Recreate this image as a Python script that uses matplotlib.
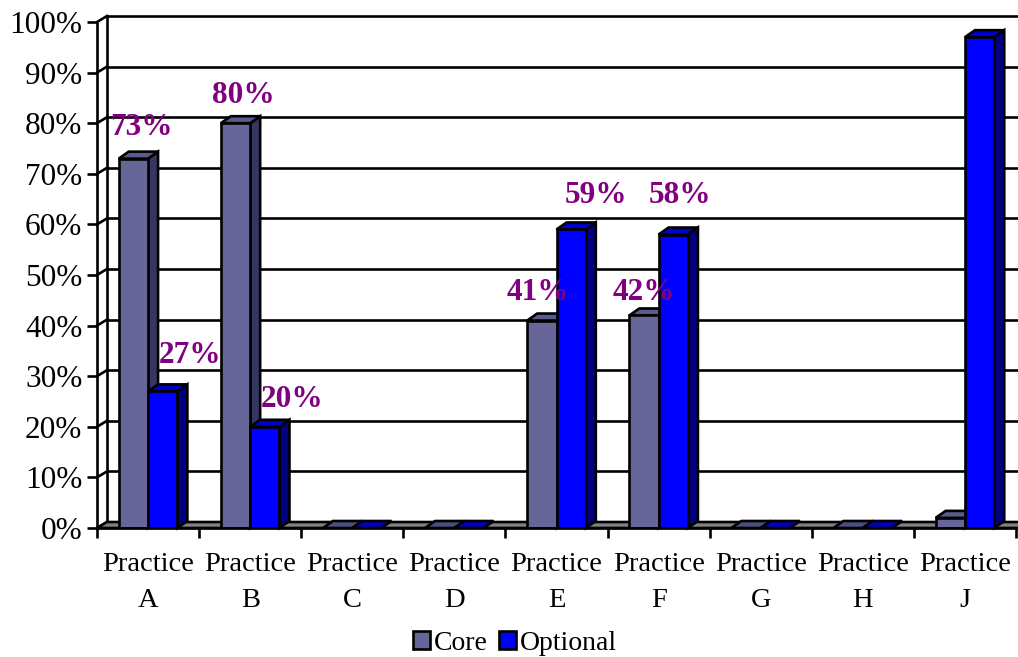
import matplotlib
matplotlib.use("Agg")
import matplotlib.pyplot as plt
from matplotlib.patches import Polygon, Rectangle
from matplotlib.ticker import FixedLocator, FuncFormatter

# ---- data -------------------------------------------------------------
categories = ["Practice\nA", "Practice\nB", "Practice\nC", "Practice\nD",
              "Practice\nE", "Practice\nF", "Practice\nG", "Practice\nH",
              "Practice\nJ"]
core = [73, 80, 0, 0, 41, 42, 0, 0, 2]
optional = [27, 20, 0, 0, 59, 58, 0, 0, 97]
labelled = [True, True, False, False, True, True, False, False, False]
series_names = ["Core", "Optional"]
y_ticks = [0, 10, 20, 30, 40, 50, 60, 70, 80, 90, 100]

# label nudges (pixels) for each labelled bar: (core, optional)
label_nudge_core = [(8, 31), (8, 28), None, None, (-4, 28), (0, 23), None, None, None]
label_nudge_opt = [(27, 36), (27, 27), None, None, (25, 34), (7, 39), None, None, None]

# ---- style ------------------------------------------------------------
FONT = "Liberation Serif"
core_cols = dict(front="#666699", top="#5a5a8c", side="#363663", flat="#4d4d80")
opt_cols = dict(front="#0000ff", top="#0000cc", side="#000080", flat="#0000c0")
floor_col = "#808080"
label_col = "#800080"
EDGE = 1.9

W, H, DPI = 1018, 657, 100
fig = plt.figure(figsize=(W / DPI, H / DPI), dpi=DPI)
ax_l, ax_r, ax_b, ax_t = 97, 1016, 528, 22
ax = fig.add_axes([ax_l / W, (H - ax_b) / H, (ax_r - ax_l) / W, (ax_b - ax_t) / H])

n = len(categories)
ax.set_xlim(-0.5, n - 0.5)
ax.set_ylim(0, 100)

px_per_cat = (ax_r - ax_l) / n
px_per_pct = (ax_b - ax_t) / 100.0

# depth offsets of the 3-D look (pixels -> data units)
wall_dx, wall_dy = 10 / px_per_cat, 6 / px_per_pct
bar_dx, bar_dy = 10 / px_per_cat, 7 / px_per_pct
bar_w = 29.3 / px_per_cat

# ---- back wall and side connectors -----------------------------------
x_left = -0.5
x_right = n - 0.5 + 2.0
for v in y_ticks:
    ax.plot([x_left + wall_dx, x_right], [v + wall_dy, v + wall_dy],
            color="black", lw=EDGE, zorder=1, clip_on=False,
            solid_capstyle="butt")
    ax.plot([x_left, x_left + wall_dx], [v, v + wall_dy],
            color="black", lw=EDGE, zorder=1, clip_on=False)
ax.plot([x_left + wall_dx, x_left + wall_dx], [wall_dy, 100 + wall_dy],
        color="black", lw=EDGE, zorder=1, clip_on=False)

# ---- floor ------------------------------------------------------------
floor = Polygon([(x_left, 0), (x_right, 0), (x_right + wall_dx, wall_dy),
                 (x_left + wall_dx, wall_dy)], closed=True,
                facecolor=floor_col, edgecolor="black", lw=EDGE, zorder=2,
                clip_on=False)
ax.add_patch(floor)


def draw_bar(x0, v, cols, z):
    x1 = x0 + bar_w
    if v <= 0:
        flat = Polygon([(x0, 0), (x1, 0), (x1 + bar_dx, bar_dy), (x0 + bar_dx, bar_dy)],
                       closed=True, facecolor=cols["flat"], edgecolor="black",
                       lw=EDGE, zorder=z)
        ax.add_patch(flat)
        return
    front = Polygon([(x0, 0), (x1, 0), (x1, v), (x0, v)], closed=True,
                    facecolor=cols["front"], edgecolor="black", lw=EDGE,
                    zorder=z, joinstyle="miter")
    top = Polygon([(x0, v), (x1, v), (x1 + bar_dx, v + bar_dy), (x0 + bar_dx, v + bar_dy)],
                  closed=True, facecolor=cols["top"], edgecolor="black",
                  lw=EDGE, zorder=z, joinstyle="miter", clip_on=False)
    side = Polygon([(x1, 0), (x1 + bar_dx, bar_dy), (x1 + bar_dx, v + bar_dy), (x1, v)],
                   closed=True, facecolor=cols["side"], edgecolor="black",
                   lw=EDGE, zorder=z, joinstyle="miter", clip_on=False)
    for p in (side, top, front):
        ax.add_patch(p)


for i in range(n):
    draw_bar(i - bar_w, core[i], core_cols, 3 + 2 * i)
    draw_bar(i, optional[i], opt_cols, 4 + 2 * i)

# ---- value labels -----------------------------------------------------
for i in range(n):
    if not labelled[i]:
        continue
    for x, v, nudge in ((i - bar_w / 2, core[i], label_nudge_core[i]),
                        (i + bar_w / 2, optional[i], label_nudge_opt[i])):
        ax.annotate(f"{v}%", xy=(x, v), xytext=nudge, textcoords="offset pixels",
                    ha="center", va="center", color=label_col,
                    fontsize=22.5, fontweight="bold", family=FONT, zorder=50,
                    annotation_clip=False)

# ---- axes -------------------------------------------------------------
for s in ("top", "right"):
    ax.spines[s].set_visible(False)
ax.spines["left"].set_linewidth(EDGE)
ax.spines["bottom"].set_linewidth(EDGE)
ax.spines["left"].set_zorder(30)
ax.spines["bottom"].set_zorder(30)

ax.set_yticks(y_ticks)
ax.yaxis.set_major_formatter(FuncFormatter(lambda v, _: f"{int(v)}%"))
ax.tick_params(axis="y", length=7.5, width=EDGE, pad=3, labelsize=22.5)

ax.set_xticks(range(n))
ax.set_xticklabels(categories, linespacing=1.6)
ax.xaxis.set_minor_locator(FixedLocator([k - 0.5 for k in range(n + 1)]))
ax.tick_params(axis="x", which="major", length=0, pad=17, labelsize=20.5)
ax.tick_params(axis="x", which="minor", length=7.5, width=EDGE)
for lab in ax.get_xticklabels() + ax.get_yticklabels():
    lab.set_family(FONT)

ax.patch.set_visible(False)

# ---- legend -----------------------------------------------------------
handles = [Rectangle((0, 0), 1, 1, facecolor=core_cols["front"], edgecolor="black", lw=EDGE),
           Rectangle((0, 0), 1, 1, facecolor=opt_cols["front"], edgecolor="black", lw=EDGE)]
fig.legend(handles, series_names, loc="center", bbox_to_anchor=(515 / W, 1 - 643 / H),
           ncol=2, frameon=False, handlelength=0.6, handleheight=0.6,
           handletextpad=0.15, columnspacing=0.4, borderpad=0,
           prop={"family": FONT, "size": 20})

fig.savefig("out.png", dpi=DPI)
